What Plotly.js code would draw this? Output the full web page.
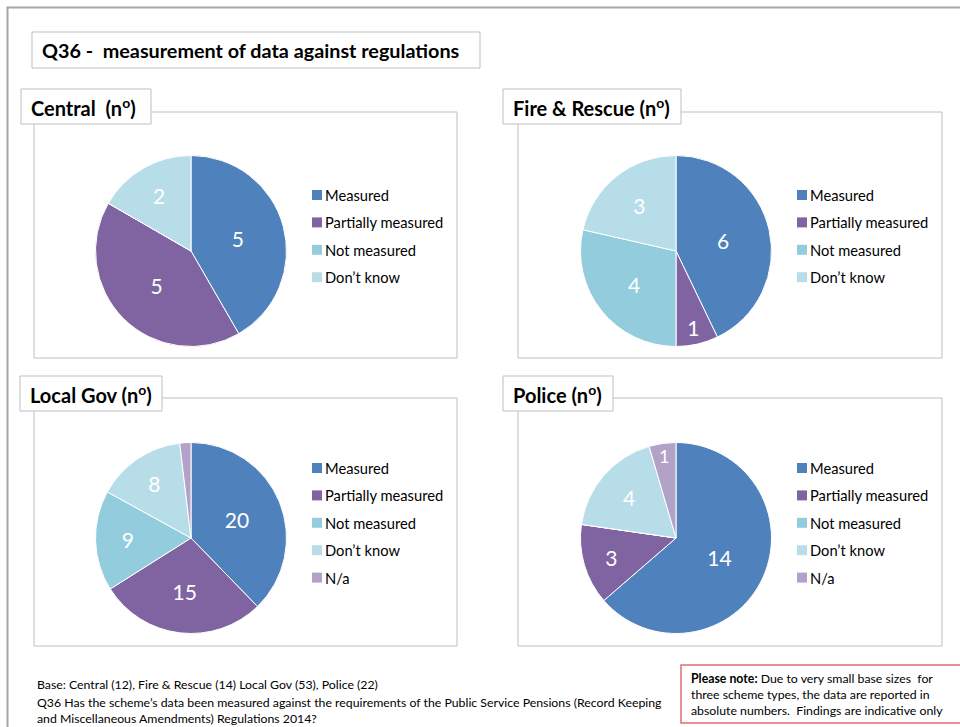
<!DOCTYPE html>
<html>
<head>
<meta charset="utf-8">
<script src="https://cdn.plot.ly/plotly-3.0.1.min.js"></script>
<style>
html,body{margin:0;padding:0;background:#fff;}
#chart{width:960px;height:727px;}
</style>
</head>
<body>
<div id="chart"></div>
<script>
// ---- DATA ----
const categories = ['Measured', 'Partially measured', 'Not measured', 'Don\u2019t know', 'N/a'];
const categoryColors = ['#4F81BD', '#8064A2', '#93CDDD', '#B7DEE8', '#B3A2C7'];
const centralValues = [5, 5, 0, 2];
const fireRescueValues = [6, 1, 4, 3];
const localGovValues = [20, 15, 9, 8, 1];
const policeValues = [14, 3, 0, 4, 1];
const panelTitles = ['Central  (n<sup>o</sup>)', 'Fire & Rescue (n<sup>o</sup>)', 'Local Gov (n<sup>o</sup>)', 'Police (n<sup>o</sup>)'];
const chartTitle = 'Q36 -  measurement of data against regulations';
const baseNote = 'Base: Central (12), Fire & Rescue (14) Local Gov (53), Police (22)';
const questionText = 'Q36 Has the scheme\u2019s data been measured against the requirements of the Public Service Pensions (Record Keeping<br>and Miscellaneous Amendments) Regulations 2014?';
const pleaseNote = '<b>Please note:</b> Due to very small base sizes  for<br>three scheme types, the data are reported in<br>absolute numbers.  Findings are indicative only';

// ---- LAYOUT HELPERS ----
const W = 960, H = 727;
const FONT = 'Lato, "Liberation Sans", sans-serif';
const px = x => x / W;
const py = y => 1 - y / H;

const panels = [
  {values: centralValues,    cx: 191, cy: 251, box: [34, 112, 457, 358], head: [21, 89, 151, 124], legX: 312, legY: 195},
  {values: fireRescueValues, cx: 676, cy: 251, box: [518, 112, 942, 358], head: [503, 89, 681, 124], legX: 797, legY: 195},
  {values: localGovValues,   cx: 191, cy: 538, box: [34, 398, 457, 646], head: [20, 376, 162, 411], legX: 312, legY: 468},
  {values: policeValues,     cx: 676, cy: 538, box: [518, 398, 942, 646], head: [503, 376, 613, 411], legX: 797, legY: 468}
];
const R = 95.5;
const legStep = 27.4;

const traces = [];
const shapes = [];
const annotations = [];

// outer frame
shapes.push({type:'line', xref:'paper', yref:'paper', x0:px(7.5), x1:px(7.5), y0:py(7.5), y1:py(727), line:{color:'#A6A6A6', width:2}});
shapes.push({type:'line', xref:'paper', yref:'paper', x0:px(6.5), x1:px(960), y0:py(7.5), y1:py(7.5), line:{color:'#A6A6A6', width:2}});

// title box
shapes.push({type:'rect', xref:'paper', yref:'paper', x0:px(32), x1:px(480), y0:py(68), y1:py(32), line:{color:'#BFBFBF', width:1}, fillcolor:'#fff'});
annotations.push({xref:'paper', yref:'paper', x:px(40), y:py(50), xanchor:'left', yanchor:'middle', showarrow:false,
  text:'<b>' + chartTitle + '</b>', font:{family:FONT, size:19.8, color:'#000'}});

panels.forEach((p, i) => {
  const n = p.values.length;
  const total = p.values.reduce((a, b) => a + b, 0);
  // panel box
  shapes.push({type:'rect', xref:'paper', yref:'paper', x0:px(p.box[0]), x1:px(p.box[2]), y0:py(p.box[3]), y1:py(p.box[1]), line:{color:'#BFBFBF', width:1}, layer:'below'});
  // header box
  shapes.push({type:'rect', xref:'paper', yref:'paper', x0:px(p.head[0]), x1:px(p.head[2]), y0:py(p.head[3]), y1:py(p.head[1]), line:{color:'#BFBFBF', width:1}, fillcolor:'#fff', layer:'below'});
  annotations.push({xref:'paper', yref:'paper', x:px(p.head[0] + 8), y:py((p.head[1] + p.head[3]) / 2), xanchor:'left', yanchor:'middle', showarrow:false,
    text:'<b>' + panelTitles[i] + '</b>', font:{family:FONT, size:20, color:'#000'}});

  traces.push({
    type:'pie',
    labels: categories.slice(0, n),
    values: p.values,
    text: p.values.map(v => (v > 0 && v / total > 0.03) ? String(v) : ''),
    textinfo:'text',
    textposition:'inside',
    insidetextorientation:'horizontal',
    insidetextfont:{family:FONT, size:21, color:'#fff'},
    marker:{colors: categoryColors.slice(0, n), line:{color:'#fff', width:1}},
    sort:false,
    direction:'clockwise',
    rotation:0,
    showlegend:false,
    hoverinfo:'label+value',
    domain:{x:[px(p.cx - R), px(p.cx + R)], y:[py(p.cy + R), py(p.cy - R)]}
  });

  // legend
  categories.slice(0, n).forEach((c, k) => {
    const y = p.legY + k * legStep;
    shapes.push({type:'rect', xref:'paper', yref:'paper', x0:px(p.legX), x1:px(p.legX + 10), y0:py(y + 5), y1:py(y - 5), line:{width:0}, fillcolor:categoryColors[k]});
    annotations.push({xref:'paper', yref:'paper', x:px(p.legX + 11), y:py(y), xanchor:'left', yanchor:'middle', showarrow:false,
      text:c, font:{family:FONT, size:14.7, color:'#000'}});
  });
});

// footnotes
annotations.push({xref:'paper', yref:'paper', x:px(35), y:py(684), xanchor:'left', yanchor:'middle', showarrow:false,
  text:baseNote, font:{family:FONT, size:12.3, color:'#000'}});
annotations.push({xref:'paper', yref:'paper', x:px(35), y:py(710), xanchor:'left', yanchor:'middle', showarrow:false, align:'left',
  text:questionText, font:{family:FONT, size:12.3, color:'#000'}});

// please-note box
shapes.push({type:'rect', xref:'paper', yref:'paper', x0:px(681), x1:px(962), y0:py(723), y1:py(665), line:{color:'#E46C6C', width:1.5}, fillcolor:'#fff'});
annotations.push({xref:'paper', yref:'paper', x:px(689), y:py(694.5), xanchor:'left', yanchor:'middle', showarrow:false, align:'left',
  text:pleaseNote, font:{family:FONT, size:12.3, color:'#000'}});

const layout = {
  width: W, height: H,
  margin:{l:0, r:0, t:0, b:0},
  paper_bgcolor:'#fff',
  showlegend:false,
  shapes: shapes,
  annotations: annotations,
  font:{family:FONT}
};

Plotly.newPlot('chart', traces, layout, {displayModeBar:false, staticPlot:true});
</script>
</body>
</html>
